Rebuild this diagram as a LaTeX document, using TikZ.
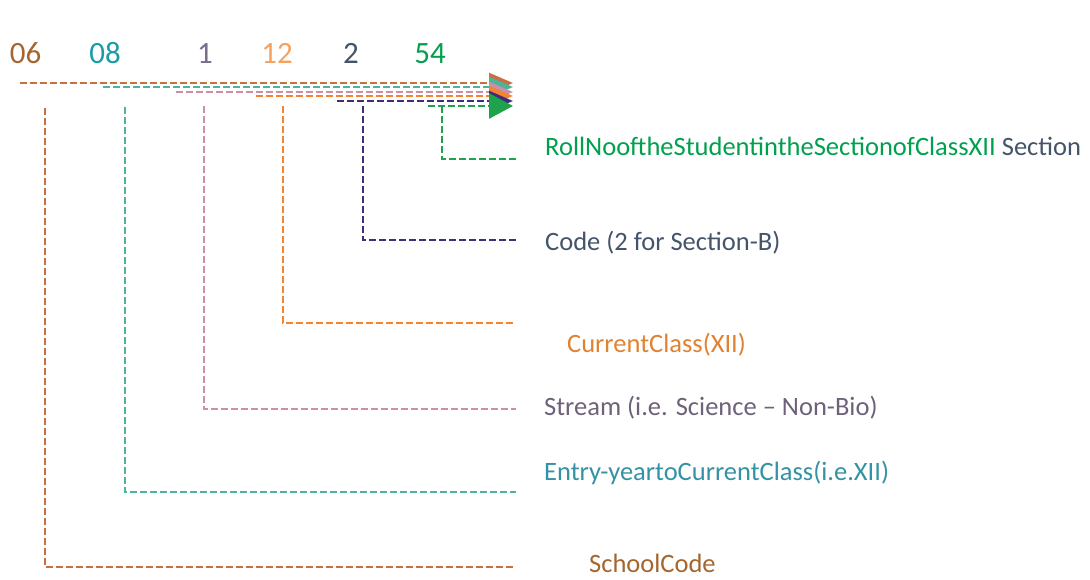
\documentclass[tikz,border=0pt]{standalone}
\usepackage{fontspec}
\setmainfont{Carlito}
\usetikzlibrary{arrows.meta}
\definecolor{lnbrown}{HTML}{C8703F}
\definecolor{lnteal}{HTML}{4DB39B}
\definecolor{lnpink}{HTML}{CC8FAA}
\definecolor{lnorange}{HTML}{F48430}
\definecolor{lnpurple}{HTML}{3F2D7C}
\definecolor{lngreen}{HTML}{1EA24C}
\definecolor{txbrown}{HTML}{A5652F}
\definecolor{txteal}{HTML}{1A9CA7}
\definecolor{txmauve}{HTML}{7C6C8D}
\definecolor{txpeach}{HTML}{F4A261}
\definecolor{txslate}{HTML}{44546A}
\definecolor{txgreen}{HTML}{00A04E}
\definecolor{txorange}{HTML}{E28230}
\definecolor{txstream}{HTML}{6E6179}
\definecolor{txentry}{HTML}{3392A3}
\tikzset{
  codeline/.style={dash pattern=on 7pt off 3pt, line width=2.6pt},
  tipped/.style={-{Triangle[width=20pt,length=24pt]}},
  digit/.style={font=\fontsize{31}{36}\selectfont, inner sep=0pt, anchor=base},
  legend/.style={font=\fontsize{26.5}{30}\selectfont, inner sep=0pt, anchor=base west},
}
\begin{document}
\begin{tikzpicture}[x=1pt,y=-1pt]
\useasboundingbox (0,0) rectangle (1090,579);
% the roll number, digit group by digit group
\node[digit,txbrown] (d06) at (25.5,63) {06};
\node[digit,txteal]  (d08) at (105,63) {08};
\node[digit,txmauve] (d1)  at (205,63) {1};
\node[digit,txpeach] (d12) at (277,63) {12};
\node[digit,txslate] (d2)  at (351,63) {2};
\node[digit,txgreen] (d54) at (430,63) {54};
% what each group means
\node[legend] (roll) at (545,155) {\textcolor{txgreen}{RollNooftheStudentintheSectionofClassXII} \textcolor{txslate}{Section}};
\node[legend,txslate]  (sect)   at (545,250) {Code (2 for Section-B)};
\node[legend,txorange] (class)  at (567,352) {CurrentClass(XII)};
\node[legend,txstream] (stream) at (544,415) {Stream (i.e. Science -- Non-Bio)};
\node[legend,txentry]  (entry)  at (544,480) {Entry-yeartoCurrentClass(i.e.XII)};
\node[legend,txbrown]  (school) at (589,572) {SchoolCode};
% ends of the lines
\coordinate (school-in) at (20,83);   \coordinate (school-tip) at (513,83);
\coordinate (entry-in)  at (103,87);  \coordinate (entry-tip)  at (513,87);
\coordinate (stream-in) at (176,92);  \coordinate (stream-tip) at (513,92);
\coordinate (class-in)  at (256,96);  \coordinate (class-tip)  at (513,96);
\coordinate (sect-in)   at (337,101); \coordinate (sect-tip)   at (513,101);
\coordinate (roll-in)   at (428,106); \coordinate (roll-tip)   at (513,106);
\coordinate (school-up) at (45,108);  \coordinate (school-end) at (516,567);
\coordinate (entry-up)  at (125,107); \coordinate (entry-end)  at (516,492);
\coordinate (stream-up) at (204,106); \coordinate (stream-end) at (516,409);
\coordinate (class-up)  at (283,106); \coordinate (class-end)  at (516,323);
\coordinate (sect-up)   at (363,106); \coordinate (sect-end)   at (516,240);
\coordinate (roll-up)   at (442,106); \coordinate (roll-end)   at (516,159);
% brackets down to the texts
\draw[codeline,lnbrown]  (school-up) |- (school-end);
\draw[codeline,lnteal]   (entry-up)  |- (entry-end);
\draw[codeline,lnpink]   (stream-up) |- (stream-end);
\draw[codeline,lnorange] (class-up)  |- (class-end);
\draw[codeline,lnpurple] (sect-up)   |- (sect-end);
\draw[codeline,lngreen]  (roll-up)   |- (roll-end);
% stacked lines into one arrow
\draw[codeline,lnbrown,tipped]  (school-in) -- (school-tip);
\draw[codeline,lnteal,tipped]   (entry-in)  -- (entry-tip);
\draw[codeline,lnpink,tipped]   (stream-in) -- (stream-tip);
\draw[codeline,lnorange,tipped] (class-in)  -- (class-tip);
\draw[codeline,lnpurple,tipped] (sect-in)   -- (sect-tip);
\draw[codeline,lngreen,-{Triangle[width=25pt,length=24pt]}] (roll-in) -- (roll-tip);
\end{tikzpicture}
\end{document}
